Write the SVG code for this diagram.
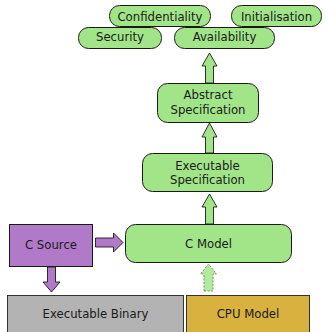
<svg xmlns="http://www.w3.org/2000/svg" width="331" height="332" viewBox="0 0 331 332">
<style>
text{font-family:"DejaVu Sans","Liberation Sans",sans-serif;font-size:11.7px;fill:#1a1a1a;text-anchor:middle}
.g{fill:#a2e589;stroke:#1a1a1a;stroke-width:1}
.ga{fill:#a2e589;stroke:#1a1a1a;stroke-width:0.9}
.gd{fill:#b4ea9c;stroke:#6a8a5a;stroke-width:0.9;stroke-dasharray:2,1.5}
.p{fill:#b07ac8;stroke:#1a1a1a;stroke-width:1}
.pa{fill:#b07ac8;stroke:#1a1a1a;stroke-width:0.9}
</style>
<rect width="331" height="332" fill="#ffffff"/>
<g id="connectors">
<path class="ga" d="M205.5,83 V66 H202 L209.5,53 L217,66 H213.5 V83 Z"/>
<path class="ga" d="M205.5,153 V137 H202 L209.5,123 L217,137 H213.5 V153 Z"/>
<path class="ga" d="M205.5,224 V207 H202 L209.5,194 L217,207 H213.5 V224 Z"/>
<path class="gd" d="M204,291 V274 H200.5 L208.5,264 L216.5,274 H213 V291 Z"/>
<path class="pa" d="M95.5,238 H113.5 V233 L123,242.5 L113.5,252 V247 H95.5 Z"/>
<path class="pa" d="M47.5,267 V282 H43 L51.5,292 L60,282 H55.5 V267 Z"/>
</g>
<g id="confidentiality"><rect class="g" x="109.5" y="5.5" width="101" height="21" rx="10"/><text x="160" y="21">Confidentiality</text></g>
<g id="initialisation"><rect class="g" x="231.5" y="5.5" width="90" height="21" rx="10"/><text x="276.5" y="21">Initialisation</text></g>
<g id="security"><rect class="g" x="78.5" y="27.5" width="83" height="21" rx="10"/><text x="120" y="41">Security</text></g>
<g id="availability"><rect class="g" x="174.5" y="27.5" width="100" height="21" rx="10"/><text x="224.5" y="41">Availability</text></g>
<g id="abstract-spec"><rect class="g" x="157.5" y="83.5" width="101" height="39" rx="10"/><text x="208" y="99">Abstract</text><text x="208" y="114">Specification</text></g>
<g id="exec-spec"><rect class="g" x="142.5" y="153.5" width="130" height="38" rx="10"/><text x="207.5" y="170">Executable</text><text x="207.5" y="184">Specification</text></g>
<g id="c-model"><rect class="g" x="125.5" y="224.5" width="166" height="38" rx="10"/><text x="208.5" y="248">C Model</text></g>
<g id="c-source"><rect class="p" x="9.5" y="224.5" width="83" height="42"/><text x="51" y="249">C Source</text></g>
<g id="exec-binary"><rect x="7.5" y="295.5" width="176" height="45" fill="#b3b3b3" stroke="#333333" stroke-width="1"/><text x="95.5" y="318">Executable Binary</text></g>
<g id="cpu-model"><rect x="186.5" y="295.5" width="123" height="45" fill="#d8b13e" stroke="#333333" stroke-width="1"/><text x="248" y="318">CPU Model</text></g>
</svg>
